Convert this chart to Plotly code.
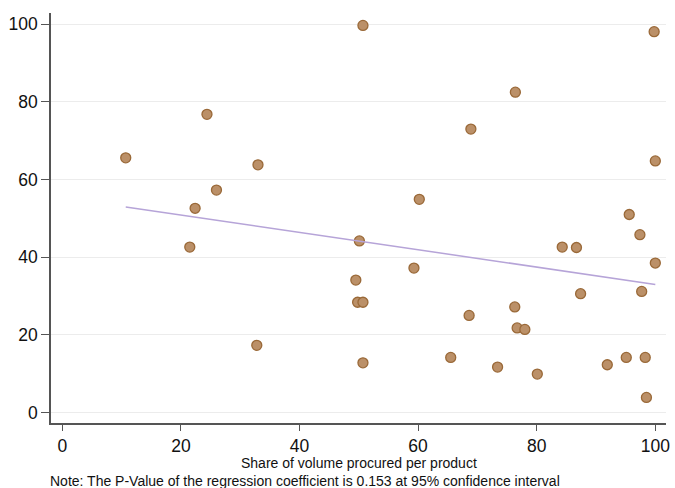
import numpy as np
import plotly.graph_objects as go

share_x = [10.7, 24.4, 22.4, 26.0, 33.0, 21.5, 32.8, 50.7, 99.8, 76.4,
           68.9, 100.0, 60.2, 95.6, 97.4, 50.1, 84.3, 86.7, 59.3, 49.5,
           49.8, 50.7, 100.0, 87.4, 97.7, 68.6, 76.3, 76.7, 78.0, 50.7,
           65.5, 73.4, 80.1, 91.9, 95.1, 98.3, 98.5]
outcome_y = [65.6, 76.8, 52.6, 57.3, 63.8, 42.6, 17.3, 99.7, 98.1, 82.5,
             73.0, 64.8, 54.9, 51.0, 45.8, 44.2, 42.6, 42.5, 37.2, 34.1,
             28.4, 28.4, 38.5, 30.6, 31.2, 25.0, 27.2, 21.8, 21.4, 12.8,
             14.2, 11.7, 9.9, 12.3, 14.2, 14.2, 3.9]

fit_intercept = 55.3
fit_slope = -0.223

x_ticks = [0, 20, 40, 60, 80, 100]
y_ticks = [0, 20, 40, 60, 80, 100]

x_title = "Share of volume procured per product"
note = "Note: The P-Value of the regression coefficient is 0.153 at 95% confidence interval"

fx = np.array([min(share_x), max(share_x)])
fy = fit_intercept + fit_slope * fx

fig = go.Figure()
fig.add_trace(go.Scatter(
    x=share_x, y=outcome_y, mode="markers",
    marker=dict(size=10, color="#bb9068", line=dict(color="#9a6938", width=1.3)),
    showlegend=False, hoverinfo="skip"))
fig.add_trace(go.Scatter(
    x=fx, y=fy, mode="lines",
    line=dict(color="#b6a4d8", width=1.5),
    showlegend=False, hoverinfo="skip"))

fig.update_layout(
    width=675, height=488,
    margin=dict(l=51, r=5, t=13, b=65),
    plot_bgcolor="white", paper_bgcolor="white",
    font=dict(family="Liberation Sans, Arial, sans-serif", color="#111111"),
    xaxis=dict(
        range=[-1.9, 101.8], tickvals=x_ticks, showgrid=False, zeroline=False,
        showline=True, linecolor="#555555", linewidth=1.5,
        ticks="outside", ticklen=6, tickcolor="#555555", tickwidth=1.2,
        tickfont=dict(size=17.5, color="#111111"),
    ),
    yaxis=dict(
        range=[-2.7, 102.9], tickvals=y_ticks, showgrid=True, gridcolor="#ececec",
        gridwidth=1, zeroline=False,
        showline=True, linecolor="#555555", linewidth=1.5,
        ticks="outside", ticklen=8, tickcolor="#555555", tickwidth=1.2,
        tickfont=dict(size=17.5, color="#111111"),
    ),
    annotations=[
        dict(text=x_title, xref="paper", yref="paper", x=0.5, y=0, yshift=-40,
             xanchor="center", yanchor="middle", showarrow=False,
             font=dict(size=14, color="#111111")),
        dict(text=note, xref="paper", yref="paper", x=-0.005, y=0, yshift=-58,
             xanchor="left", yanchor="middle", showarrow=False,
             font=dict(size=14, color="#111111")),
    ],
)

fig.write_html("out.html")
